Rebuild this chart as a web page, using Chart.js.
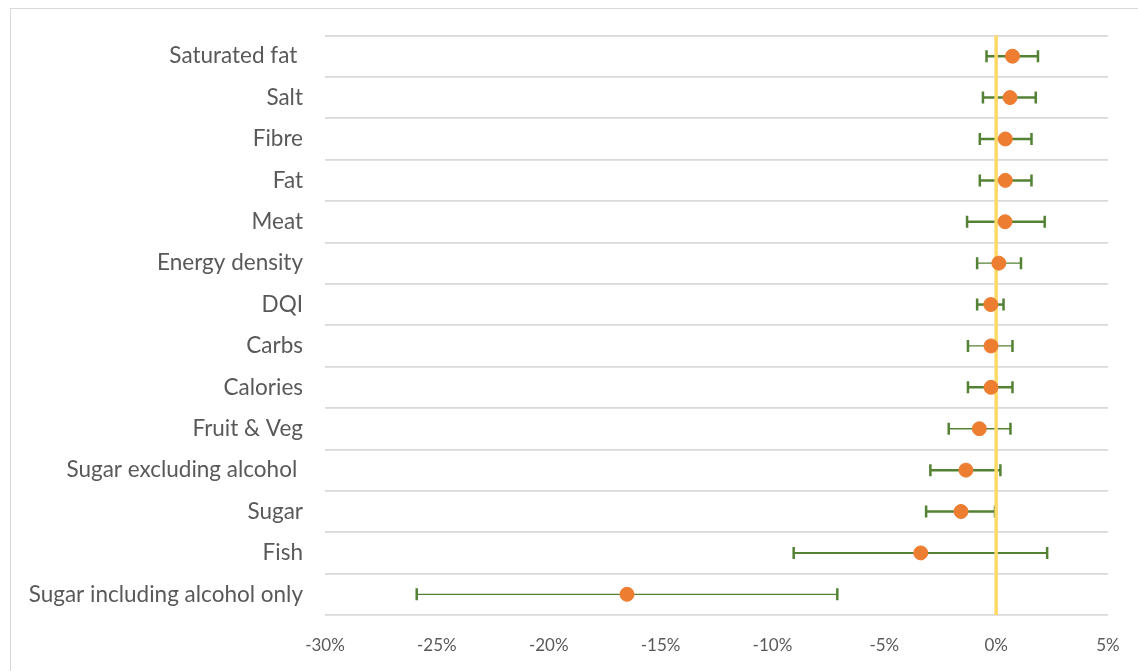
<!DOCTYPE html>
<html>
<head>
<meta charset="utf-8">
<script src="https://cdn.jsdelivr.net/npm/chart.js@4"></script>
<style>
  html, body { margin: 0; padding: 0; background: #fff; overflow: hidden; }
  #wrap { position: absolute; left: 0; top: 0; width: 1138px; height: 671px; }
  #frame { position: absolute; left: 10px; top: 8px; width: 1200px; height: 700px; border: 1px solid #d9d9d9; }
</style>
</head>
<body>
<div id="wrap">
  <div id="frame"></div>
  <canvas id="myChart" width="1138" height="671"></canvas>
</div>
<script>
// categories, top to bottom
var categories = [
  "Saturated fat ",
  "Salt",
  "Fibre",
  "Fat",
  "Meat",
  "Energy density",
  "DQI",
  "Carbs",
  "Calories",
  "Fruit & Veg",
  "Sugar excluding alcohol ",
  "Sugar",
  "Fish",
  "Sugar including alcohol only",
];

// % change, point estimate and interval ends
var estimate = [0.73, 0.62, 0.41, 0.41, 0.4, 0.12, -0.24, -0.23, -0.23, -0.75, -1.35, -1.57, -3.37, -16.5];
var lower = [-0.43, -0.59, -0.73, -0.73, -1.3, -0.85, -0.85, -1.26, -1.26, -2.12, -2.94, -3.13, -9.05, -25.9];
var upper = [1.87, 1.77, 1.58, 1.58, 2.17, 1.11, 0.33, 0.73, 0.73, 0.64, 0.19, -0.05, 2.28, -7.1];

var xTicks = [-30, -25, -20, -15, -10, -5, 0, 5];

// line width of each error bar (thin ones look thinner in the picture)
var barWidth = [2.5, 2.5, 2.5, 2.5, 2.5, 1.3, 2.5, 1.3, 2.5, 1.3, 2.5, 2.5, 2, 1.3];

var points = categories.map(function (c, i) {
  return { x: estimate[i], y: c };
});

// error bars + zero line, drawn under the dots
var errorBars = {
  id: "errorBars",
  beforeDatasetsDraw: function (chart) {
    var c = chart.ctx;
    var xs = chart.scales.x;
    var ys = chart.scales.y;
    var area = chart.chartArea;
    c.save();
    c.strokeStyle = "#548235";
    categories.forEach(function (cat, i) {
      var y = ys.getPixelForValue(i);
      var x1 = xs.getPixelForValue(lower[i]);
      var x2 = xs.getPixelForValue(upper[i]);
      c.lineWidth = barWidth[i];
      c.beginPath();
      c.moveTo(x1, y);
      c.lineTo(x2, y);
      c.stroke();
      c.lineWidth = 2.5;
      c.beginPath();
      c.moveTo(x1, y - 6);
      c.lineTo(x1, y + 6);
      c.moveTo(x2, y - 6);
      c.lineTo(x2, y + 6);
      c.stroke();
    });
    // zero line
    var x0 = xs.getPixelForValue(0);
    c.strokeStyle = "#ffd966";
    c.lineWidth = 3.5;
    c.beginPath();
    c.moveTo(x0, area.top);
    c.lineTo(x0, area.bottom);
    c.stroke();
    c.restore();
  },
};

var ctx = document.getElementById("myChart");

new Chart(ctx, {
  type: "scatter",
  data: {
    datasets: [
      {
        data: points,
        backgroundColor: "#ed7d31",
        borderColor: "#ed7d31",
        pointRadius: 7,
        pointHoverRadius: 7,
      },
    ],
  },
  options: {
    responsive: false,
    animation: false,
    layout: {
      padding: { top: 35, right: 30, left: 0, bottom: 0 },
    },
    plugins: {
      legend: { display: false },
      tooltip: { enabled: false },
    },
    scales: {
      x: {
        type: "linear",
        min: -30,
        max: 5,
        afterBuildTicks: function (scale) {
          scale.ticks = xTicks.map(function (v) {
            return { value: v };
          });
        },
        afterFit: function (scale) {
          scale.height = 56;
        },
        grid: { display: false },
        border: { display: false },
        ticks: {
          padding: 12,
          color: "#595959",
          font: { family: "Lato", size: 17 },
          callback: function (value) {
            return value + "%";
          },
        },
      },
      y: {
        type: "category",
        labels: categories,
        offset: true,
        afterFit: function (scale) {
          scale.width = 325;
        },
        grid: {
          offset: true,
          color: "#d9d9d9",
          lineWidth: 1.8,
          drawTicks: false,
        },
        border: { display: false },
        ticks: {
          padding: 22,
          color: "#595959",
          font: { family: "Lato", size: 22.5 },
        },
      },
    },
  },
  plugins: [errorBars],
});
</script>
</body>
</html>
